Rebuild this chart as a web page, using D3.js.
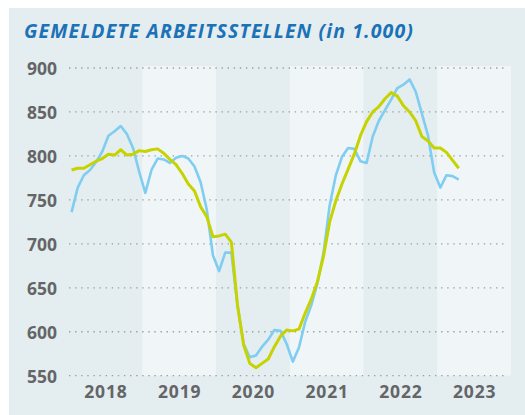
<!DOCTYPE html>
<html>
<head>
<meta charset="utf-8">
<script src="https://cdn.jsdelivr.net/npm/d3@7/dist/d3.min.js"></script>
<style>
  html, body { margin: 0; padding: 0; background: #ffffff; }
  svg { display: block; }
</style>
</head>
<body>
<svg id="chart" width="525" height="415"></svg>
<script>
// Gemeldete Arbeitsstellen, Monatswerte Jan 2018 – Apr 2023 (in 1.000)
const years = [2018, 2019, 2020, 2021, 2022, 2023];
const yTicks = [550, 600, 650, 700, 750, 800, 850, 900];

// Ursprungswerte (hellblau)
const unbereinigt = [
  736, 764, 778, 784, 793, 805, 823, 828, 834, 825, 809, 782,
  758, 784, 797, 796, 792, 798, 800, 797, 788, 770, 739, 687,
  669, 690, 690, 630, 586, 571, 573, 583, 591, 602, 601, 586,
  566, 582, 611, 630, 655, 690, 744, 778, 799, 809, 808, 794,
  792, 822, 840, 852, 864, 877, 881, 887, 873, 848, 823, 781,
  764, 778, 777, 773
];

// Saisonbereinigte Werte (gelbgrün)
const saisonbereinigt = [
  784, 786, 786, 790, 794, 797, 802, 801, 807, 801, 802, 806,
  805, 807, 808, 803, 796, 790, 780, 768, 760, 742, 731, 708,
  709, 711, 702, 630, 585, 564, 559, 564, 569, 583, 595, 602,
  601, 603, 621, 637, 657, 686, 725, 749, 768, 785, 802, 823,
  839, 850, 856, 865, 872, 868, 857, 850, 840, 822, 817, 809,
  809, 804, 795, 786
];

const svg = d3.select("#chart");
const W = 525, H = 415;

// Panel background
svg.append("rect")
  .attr("x", 9).attr("y", 8)
  .attr("width", W - 9).attr("height", H - 8)
  .attr("fill", "#e4edf0");

// Title
svg.append("text")
  .attr("x", 24).attr("y", 37.5)
  .attr("font-family", "'Open Sans', 'Noto Sans', sans-serif")
  .attr("font-size", 19.5)
  .attr("font-weight", 700)
  .attr("font-style", "italic")
  .attr("letter-spacing", 1.1)
  .attr("fill", "#1b72b7")
  .text("GEMELDETE ARBEITSSTELLEN (in 1.000)");

const plot = { left: 68.5, right: 511, top: 68, bottom: 375.7 };

const x = d3.scaleLinear()
  .domain([years[0], years[years.length - 1] + 1])
  .range([plot.left, plot.right]);

const y = d3.scaleLinear()
  .domain([550, 900])
  .range([plot.bottom, plot.top]);

// Alternating year bands (lighter for every second year)
svg.append("g")
  .selectAll("rect")
  .data(years.filter((d, i) => i % 2 === 1))
  .join("rect")
  .attr("x", d => x(d))
  .attr("width", d => x(d + 1) - x(d))
  .attr("y", plot.top - 2)
  .attr("height", plot.bottom - plot.top + 2)
  .attr("fill", "#f0f6f7");

// Dotted horizontal gridlines
svg.append("g")
  .selectAll("line")
  .data(yTicks)
  .join("line")
  .attr("x1", 69).attr("x2", 508)
  .attr("y1", d => y(d)).attr("y2", d => y(d))
  .attr("stroke", "#9a9fa2")
  .attr("stroke-width", 1.3)
  .attr("stroke-dasharray", "1.4,4.7");

// Y axis labels
const yAxis = d3.axisLeft(y).tickValues(yTicks).tickSize(0).tickPadding(0);
const gy = svg.append("g")
  .attr("transform", "translate(57,1)")
  .call(yAxis);
gy.select(".domain").remove();
gy.selectAll("text")
  .attr("font-family", "'Open Sans', 'Noto Sans', sans-serif")
  .attr("font-size", 17.5)
  .attr("font-weight", 700)
  .attr("fill", "#646567");

// X axis labels, centred in each year band
const xAxis = d3.axisBottom(x)
  .tickValues(years.map(d => d + 0.5))
  .tickFormat(d => String(Math.floor(d)))
  .tickSize(0).tickPadding(0);
const gx = svg.append("g")
  .attr("transform", "translate(0,386)")
  .call(xAxis);
gx.select(".domain").remove();
gx.selectAll("text")
  .attr("font-family", "'Open Sans', 'Noto Sans', sans-serif")
  .attr("font-size", 17.5)
  .attr("font-weight", 700)
  .attr("letter-spacing", 0.8)
  .attr("fill", "#646567");

// Month positions: centre of each month
const monthX = i => x(years[0] + (i + 0.5) / 12);

const line = d3.line()
  .x((d, i) => monthX(i))
  .y(d => y(d));

svg.append("path")
  .datum(unbereinigt)
  .attr("d", line)
  .attr("fill", "none")
  .attr("stroke", "#7fcdf0")
  .attr("stroke-width", 2.6)
  .attr("stroke-linejoin", "round");

svg.append("path")
  .datum(saisonbereinigt)
  .attr("d", line)
  .attr("fill", "none")
  .attr("stroke", "#c6d300")
  .attr("stroke-width", 3)
  .attr("stroke-linejoin", "round");
</script>
</body>
</html>
